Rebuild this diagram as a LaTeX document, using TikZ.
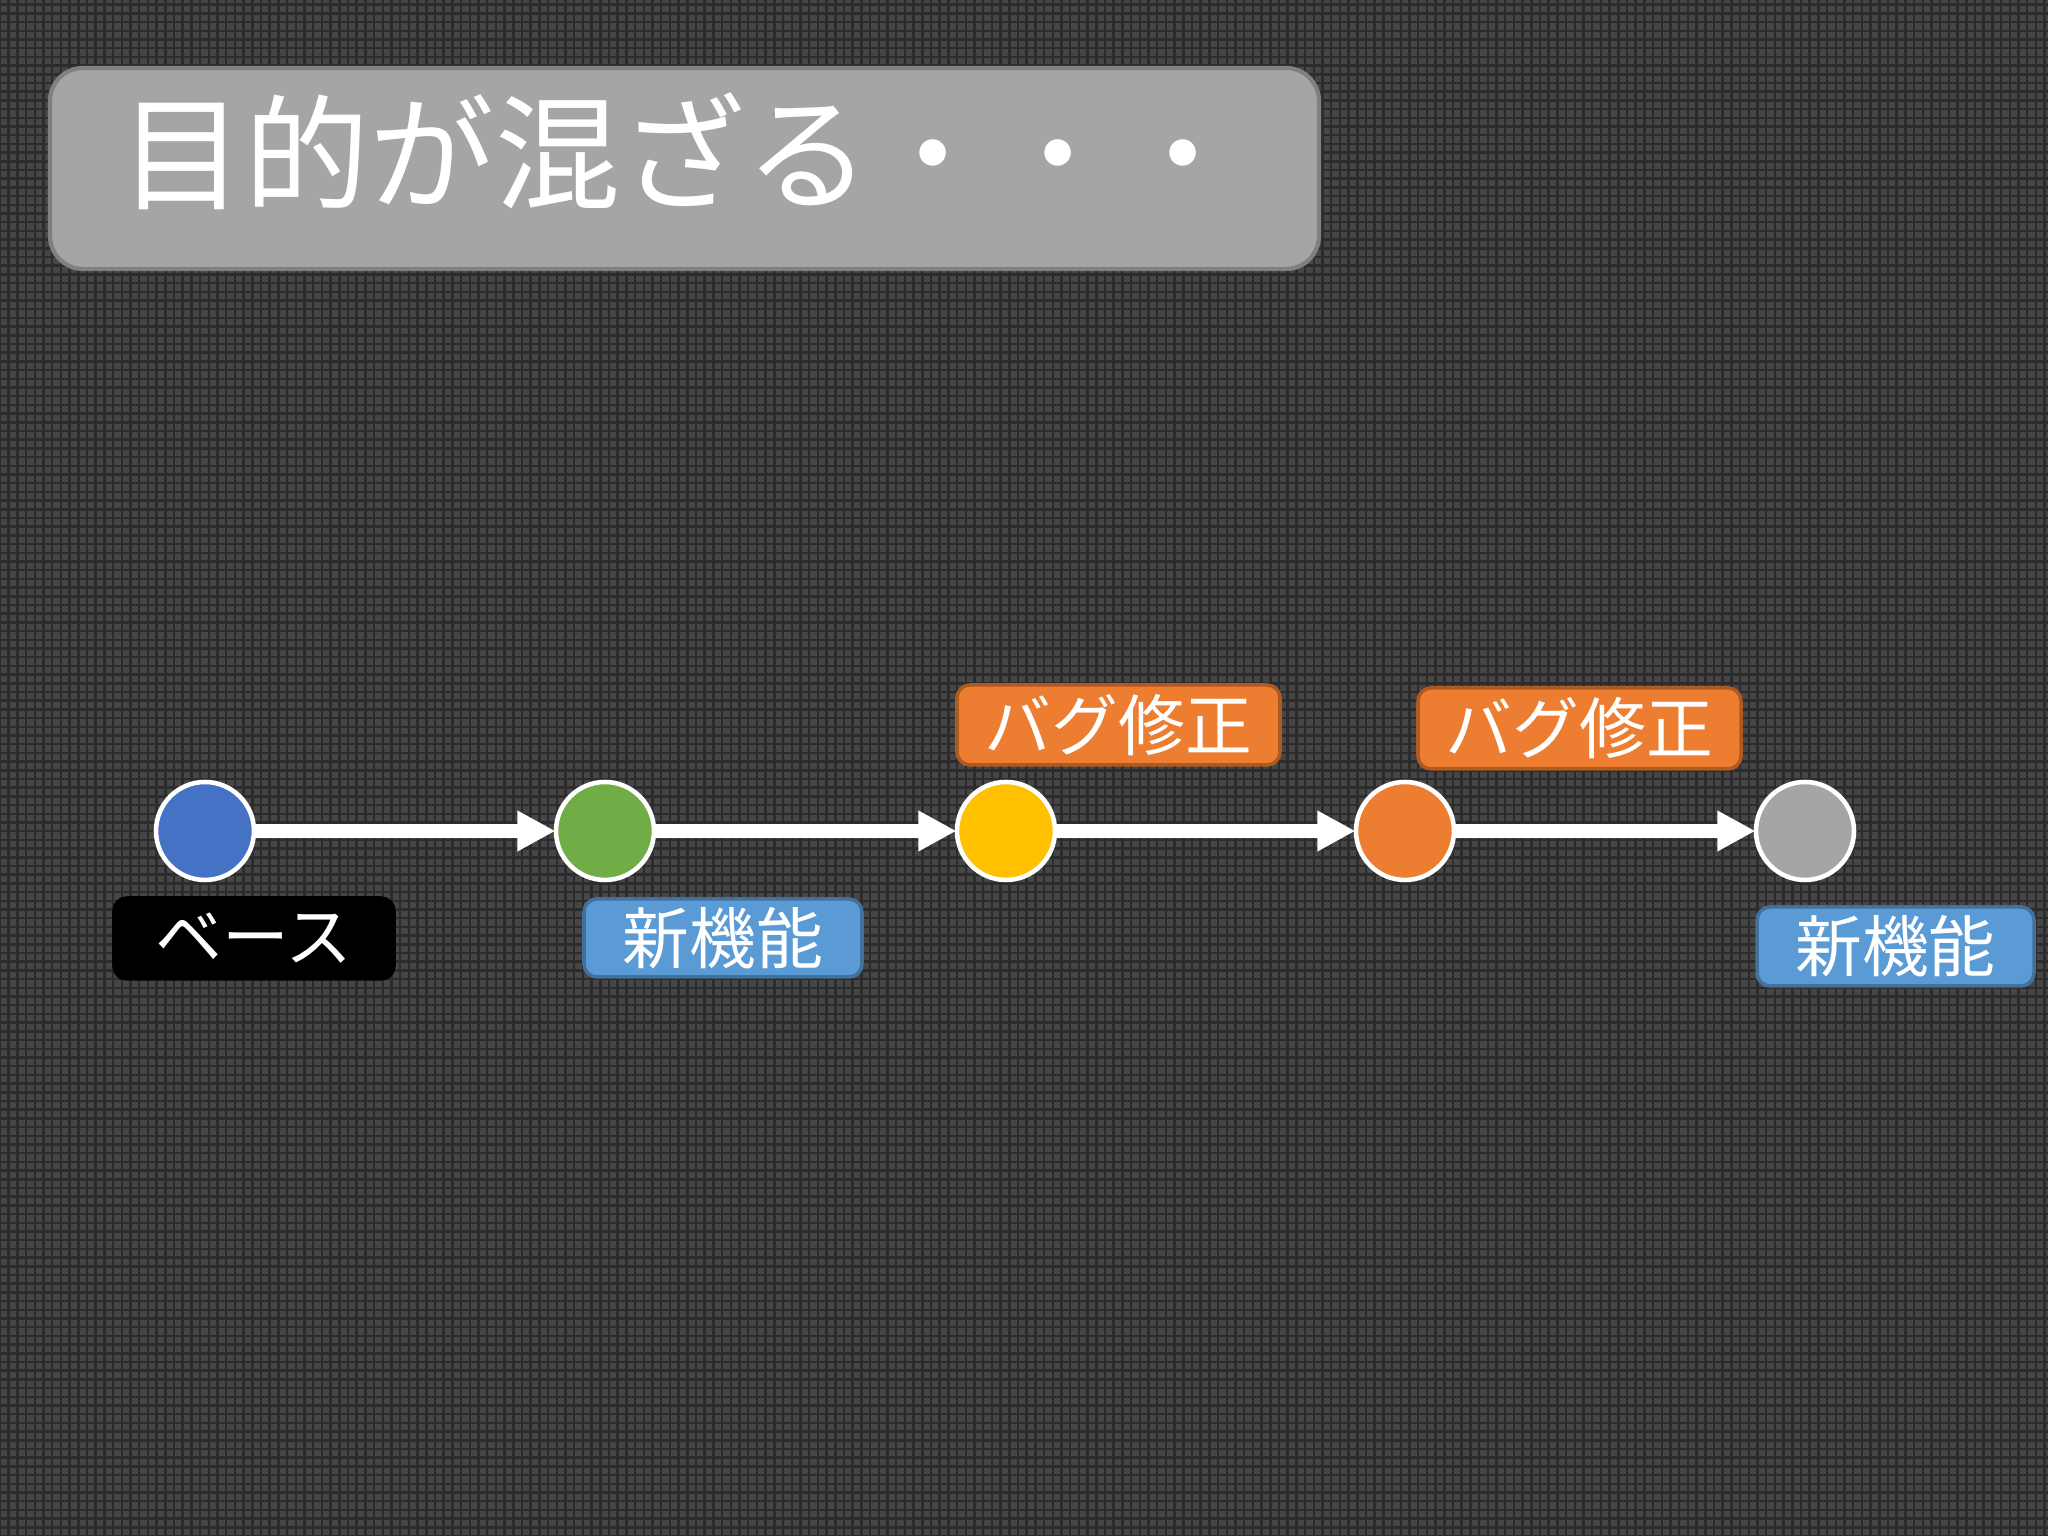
\documentclass[tikz,border=0pt]{standalone}
\usepackage{fontspec}
\setmainfont{Noto Sans CJK JP}
\usetikzlibrary{arrows.meta}
\definecolor{bgsq}{HTML}{464646}
\definecolor{bgline}{HTML}{2C2C2C}
\definecolor{titlefill}{HTML}{A5A5A5}
\definecolor{titleedge}{HTML}{808080}
\definecolor{cblue}{HTML}{4472C4}
\definecolor{cgreen}{HTML}{70AD47}
\definecolor{cyellow}{HTML}{FFC000}
\definecolor{corange}{HTML}{ED7D31}
\definecolor{cgray}{HTML}{A5A5A5}
\definecolor{lblue}{HTML}{5B9BD5}
\definecolor{lblueedge}{HTML}{41719C}
\definecolor{lorangeedge}{HTML}{AE5A21}
\tikzset{
  commit/.style={circle, draw=white, line width=1.3pt, minimum size=0.98cm, inner sep=0pt},
  flow/.style={white, line width=3.9pt, -{Triangle[length=0.38cm,width=0.38cm]}, shorten >=-0.5pt},
  tag/.style={rounded corners=0.13cm, line width=1pt, text=white, inner sep=0pt,
    font=\fontsize{19pt}{23pt}\selectfont, minimum height=0.80cm},
}
\begin{document}
\begin{tikzpicture}
\useasboundingbox (0,0) rectangle (20.48,15.36);
\fill[bgsq] (0,0) rectangle (20.48,15.36);
\draw[bgline, line width=0.025cm] (0,0) grid[step=0.087cm] (20.48,15.36);
% title
\node[draw=titleedge, fill=titlefill, line width=1.2pt, rounded corners=0.33cm,
      minimum width=12.69cm, minimum height=2.01cm, inner sep=0pt] (titlebox) at (6.845,13.675) {};
\node[anchor=west, text=white, inner sep=0pt, font=\fontsize{35.6pt}{40pt}\selectfont] (title) at (1.19,13.85) {目的が混ざる・・・};
% commits
\node[commit, fill=cblue] (c1) at (2.05,7.05) {};
\node[commit, fill=cgreen] (c2) at (6.05,7.05) {};
\node[commit, fill=cyellow] (c3) at (10.06,7.05) {};
\node[commit, fill=corange] (c4) at (14.05,7.05) {};
\node[commit, fill=cgray] (c5) at (18.05,7.05) {};
\draw[flow] (c1) -- (c2);
\draw[flow] (c2) -- (c3);
\draw[flow] (c3) -- (c4);
\draw[flow] (c4) -- (c5);
% labels
\node[tag, fill=black, draw=black, minimum width=2.80cm, minimum height=0.81cm] (l1) at (2.54,5.975) {ベース};
\node[tag, fill=lblue, draw=lblueedge, minimum width=2.78cm, minimum height=0.78cm] (l2) at (7.23,5.98) {新機能};
\node[tag, fill=corange, draw=lorangeedge, minimum width=3.23cm] (l3) at (11.185,8.11) {バグ修正};
\node[tag, fill=corange, draw=lorangeedge, minimum width=3.23cm, minimum height=0.81cm] (l4) at (15.795,8.075) {バグ修正};
\node[tag, fill=lblue, draw=lblueedge, minimum width=2.77cm, minimum height=0.79cm] (l5) at (18.955,5.895) {新機能};
\end{tikzpicture}
\end{document}
